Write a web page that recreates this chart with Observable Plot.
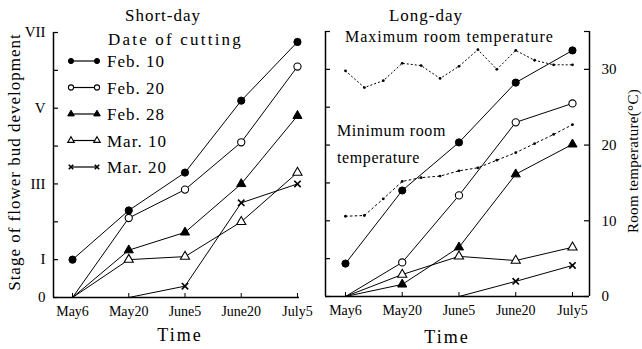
<!DOCTYPE html>
<html><head><meta charset="utf-8">
<script src="https://cdn.jsdelivr.net/npm/d3@7"></script>
<script src="https://cdn.jsdelivr.net/npm/@observablehq/plot@0.6"></script>
<style>
body{margin:0;background:#fff;}
#wrap{position:relative;width:642px;height:349px;font-family:"Liberation Serif","Times New Roman","DejaVu Serif",serif;color:#000;overflow:hidden;background:#fff}
.plot{position:absolute;top:0}
.lbl{position:absolute;white-space:nowrap;line-height:1;transform:translate(0,-50%);}
.ctr{transform:translate(-50%,-50%);}
.rot{transform:translate(-50%,-50%) rotate(-90deg);}
</style></head><body><div id="wrap"></div>
<script>
// ---------- data ----------
const dates = ["May6", "May20", "June5", "June20", "July5"];
const cuttings = ["Feb. 10", "Feb. 20", "Feb. 28", "Mar. 10", "Mar. 20"];

// Short-day: stage of flower bud development (0..VII)
const shortFeb10 = [1.0, 2.3, 3.3, 5.2, 6.75];
const shortFeb20 = [0, 2.1, 2.85, 4.1, 6.1];
const shortFeb28 = [0, 1.25, 1.72, 3.0, 4.8];
const shortMar10 = [0, 1.0, 1.08, 2.0, 3.3];
const shortMar20 = [null, 0, 0.3, 2.5, 3.0];

// Long-day
const longFeb10 = [0.87, 2.8, 4.07, 5.65, 6.5];
const longFeb20 = [0, 0.9, 2.67, 4.6, 5.1];
const longFeb28 = [0, 0.32, 1.3, 3.23, 4.02];
const longMar10 = [0, 0.58, 1.06, 0.95, 1.3];
const longMar20 = [null, null, 0, 0.4, 0.82];

// Room temperature (°C), readings every third of a date interval
const maxTemp = [29.8, 27.6, 28.5, 30.8, 30.5, 28.8, 30.4, 32.6, 30.0, 32.5, 31.2, 30.6, 30.6];
const minTemp = [10.6, 10.7, 12.9, 15.2, 15.7, 15.9, 16.6, 17.0, 18.0, 19.0, 20.2, 21.4, 22.7];
const tempStepsPerDate = 3;

// ticks
const stageTickValues = [0, 1, 2, 3, 4, 5, 6, 7];
const stageTickLabels = ["0", "I", "", "III", "", "V", "", "VII"];
const tempTickValues = [0, 10, 20, 30];
const tempMax = 35; // top of temperature axis matches stage VII

// ---------- helpers ----------
const FONT = '"Liberation Serif","Times New Roman","DejaVu Serif",serif';
const styles = {
  "Feb. 10": {symbol: "circle", r: 3.6, fill: "black", stroke: "black", sw: 1},
  "Feb. 20": {symbol: "circle", r: 3.6, fill: "white", stroke: "black", sw: 1.1},
  "Feb. 28": {symbol: "triangle", r: 3.4, fill: "black", stroke: "black", sw: 1},
  "Mar. 10": {symbol: "triangle", r: 3.4, fill: "white", stroke: "black", sw: 1.1},
  "Mar. 20": {symbol: "times", r: 3.0, fill: "none", stroke: "black", sw: 1.6}
};
const toStage = t => t * 7 / tempMax;
function tidy(seriesList) {
  return seriesList.flatMap((vals, s) =>
    vals.map((v, i) => ({series: cuttings[s], i, v})).filter(d => d.v != null));
}
function seriesMarks(rows) {
  const marks = [Plot.line(rows, {x: "i", y: "v", z: "series", stroke: "black", strokeWidth: 1})];
  for (const name of cuttings) {
    const st = styles[name];
    marks.push(Plot.dot(rows.filter(d => d.series === name && d.v > 0), {
      x: "i", y: "v", symbol: st.symbol, r: st.r, fill: st.fill, stroke: st.stroke, strokeWidth: st.sw
    }));
  }
  return marks;
}
const idx = dates.map((d, i) => i);

// ---------- left panel ----------
const L = {width: 320, height: 349, ml: 53, mr: 21, mt: 32, mb: 52, x0: -0.338, x1: 4.036};
const LiW = L.width - L.ml - L.mr, LiH = L.height - L.mt - L.mb;
const left = Plot.plot({
  width: L.width, height: L.height,
  marginLeft: L.ml, marginRight: L.mr, marginTop: L.mt, marginBottom: L.mb,
  style: {fontFamily: FONT, fontSize: "14px", background: "transparent", color: "black", overflow: "visible"},
  x: {domain: [L.x0, L.x1]},
  y: {domain: [0, 7]},
  marks: [
    Plot.axisY(stageTickValues, {tickSize: 0, tickPadding: 8, fontSize: 15, label: null,
      tickFormat: d => stageTickLabels[stageTickValues.indexOf(d)]}),
    Plot.axisX(idx, {tickSize: 0, tickPadding: 9, fontSize: 14, label: null, tickFormat: d => dates[d]}),
    Plot.tickY(stageTickValues, {y: d => d, insetRight: LiW - 5, stroke: "black", strokeWidth: 1.2}),
    Plot.tickX(idx, {x: d => d, insetTop: LiH - 4, stroke: "black"}),
    Plot.ruleX([L.x0], {stroke: "black", strokeWidth: 1.5}),
    Plot.ruleY([0], {stroke: "black", strokeWidth: 1.5}),
    ...seriesMarks(tidy([shortFeb10, shortFeb20, shortFeb28, shortMar10, shortMar20]))
  ]
});
left.classList.add("plot"); left.style.left = "0px";

// ---------- right panel ----------
const R = {width: 322, height: 349, ml: 5, mr: 53, mt: 31, mb: 53, x0: -0.352, x1: 4.3};
const RiW = R.width - R.ml - R.mr, RiH = R.height - R.mt - R.mb;
const tempRows = (arr, kind) => arr.map((t, k) => ({kind, i: k / tempStepsPerDate, v: toStage(t)}));
const maxRows = tempRows(maxTemp, "max");
const minRows = tempRows(minTemp, "min");
const right = Plot.plot({
  width: R.width, height: R.height,
  marginLeft: R.ml, marginRight: R.mr, marginTop: R.mt, marginBottom: R.mb,
  style: {fontFamily: FONT, fontSize: "14px", background: "transparent", color: "black", overflow: "visible"},
  x: {domain: [R.x0, R.x1]},
  y: {domain: [0, 7]},
  marks: [
    Plot.axisY(tempTickValues.map(toStage), {anchor: "right", tickSize: 0, tickPadding: 12, fontSize: 15, label: null,
      tickFormat: d => tempTickValues[tempTickValues.map(toStage).indexOf(d)]}),
    Plot.axisX(idx, {tickSize: 0, tickPadding: 9, fontSize: 14, label: null, tickFormat: d => dates[d]}),
    Plot.tickY(stageTickValues, {y: d => d, insetRight: RiW - 5, stroke: "black", strokeWidth: 1.2}),
    Plot.tickY([...tempTickValues.map(toStage), 7], {y: d => d, insetLeft: RiW - 5, stroke: "black", strokeWidth: 1.2}),
    Plot.tickX(idx, {x: d => d, insetTop: RiH - 4, stroke: "black"}),
    Plot.ruleX([R.x0, R.x1], {stroke: "black", strokeWidth: 1.5}),
    Plot.ruleY([0], {stroke: "black", strokeWidth: 1.5}),
    Plot.line(maxRows, {x: "i", y: "v", stroke: "black", strokeWidth: 1, strokeDasharray: "1.2,2.8"}),
    Plot.dot(maxRows, {x: "i", y: "v", r: 1.4, fill: "black"}),
    Plot.line(minRows, {x: "i", y: "v", stroke: "black", strokeWidth: 1, strokeDasharray: "1.8,3"}),
    Plot.dot(minRows, {x: "i", y: "v", r: 1.4, fill: "black"}),
    ...seriesMarks(tidy([longFeb10, longFeb20, longFeb28, longMar10, longMar20]))
  ]
});
right.classList.add("plot"); right.style.left = "320px";

const wrap = document.getElementById("wrap");
wrap.append(left, right);

// ---------- text labels ----------
function label(text, x, y, cls, css) {
  const d = document.createElement("div");
  d.className = "lbl " + (cls || "");
  d.textContent = text;
  d.style.left = x + "px"; d.style.top = y + "px";
  Object.assign(d.style, css || {});
  wrap.append(d);
}
label("Short-day", 163, 15, "ctr", {fontSize: "17px", letterSpacing: "1px"});
label("Long-day", 426, 15, "ctr", {fontSize: "17px", letterSpacing: "1px"});
label("Stage of flower bud development", 14, 162, "rot", {fontSize: "17px", letterSpacing: "1px"});
label("Room temperature(°C)", 633, 161, "rot", {fontSize: "15px", letterSpacing: "0.3px"});
label("Time", 180, 335, "ctr", {fontSize: "18px", letterSpacing: "2px"});
label("Time", 447, 337, "ctr", {fontSize: "18px", letterSpacing: "2px"});
label("Maximum room temperature", 345, 37, "", {fontSize: "16px", letterSpacing: "1px"});
label("Minimum room", 337, 131, "", {fontSize: "16px", letterSpacing: "0.6px"});
label("temperature", 337, 158, "", {fontSize: "16px", letterSpacing: "0.6px"});
label("Date of cutting", 108, 39, "", {fontSize: "17px", letterSpacing: "2.2px"});

// ---------- legend ----------
const legTop = 61, legStep = 26.5, legX0 = 71, legX1 = 97, legText = 107;
const svg = d3.select(wrap).append("svg")
  .attr("width", 642).attr("height", 349)
  .style("position", "absolute").style("left", 0).style("top", 0).style("pointer-events", "none");
const symMap = {circle: d3.symbolCircle, triangle: d3.symbolTriangle, times: d3.symbolTimes};
cuttings.forEach((name, k) => {
  const y = legTop + k * legStep;
  const st = styles[name];
  svg.append("line").attr("x1", legX0).attr("x2", legX1).attr("y1", y).attr("y2", y)
    .attr("stroke", "black").attr("stroke-width", 1.2);
  const r = st.r * 0.72;
  for (const x of [legX0, legX1]) {
    svg.append("path").attr("transform", `translate(${x},${y})`)
      .attr("d", d3.symbol(symMap[st.symbol], r * r * Math.PI)())
      .attr("fill", st.fill).attr("stroke", st.stroke).attr("stroke-width", st.sw);
  }
  label(name, legText, y, "", {fontSize: "17px", letterSpacing: "1px"});
});
</script></body></html>
